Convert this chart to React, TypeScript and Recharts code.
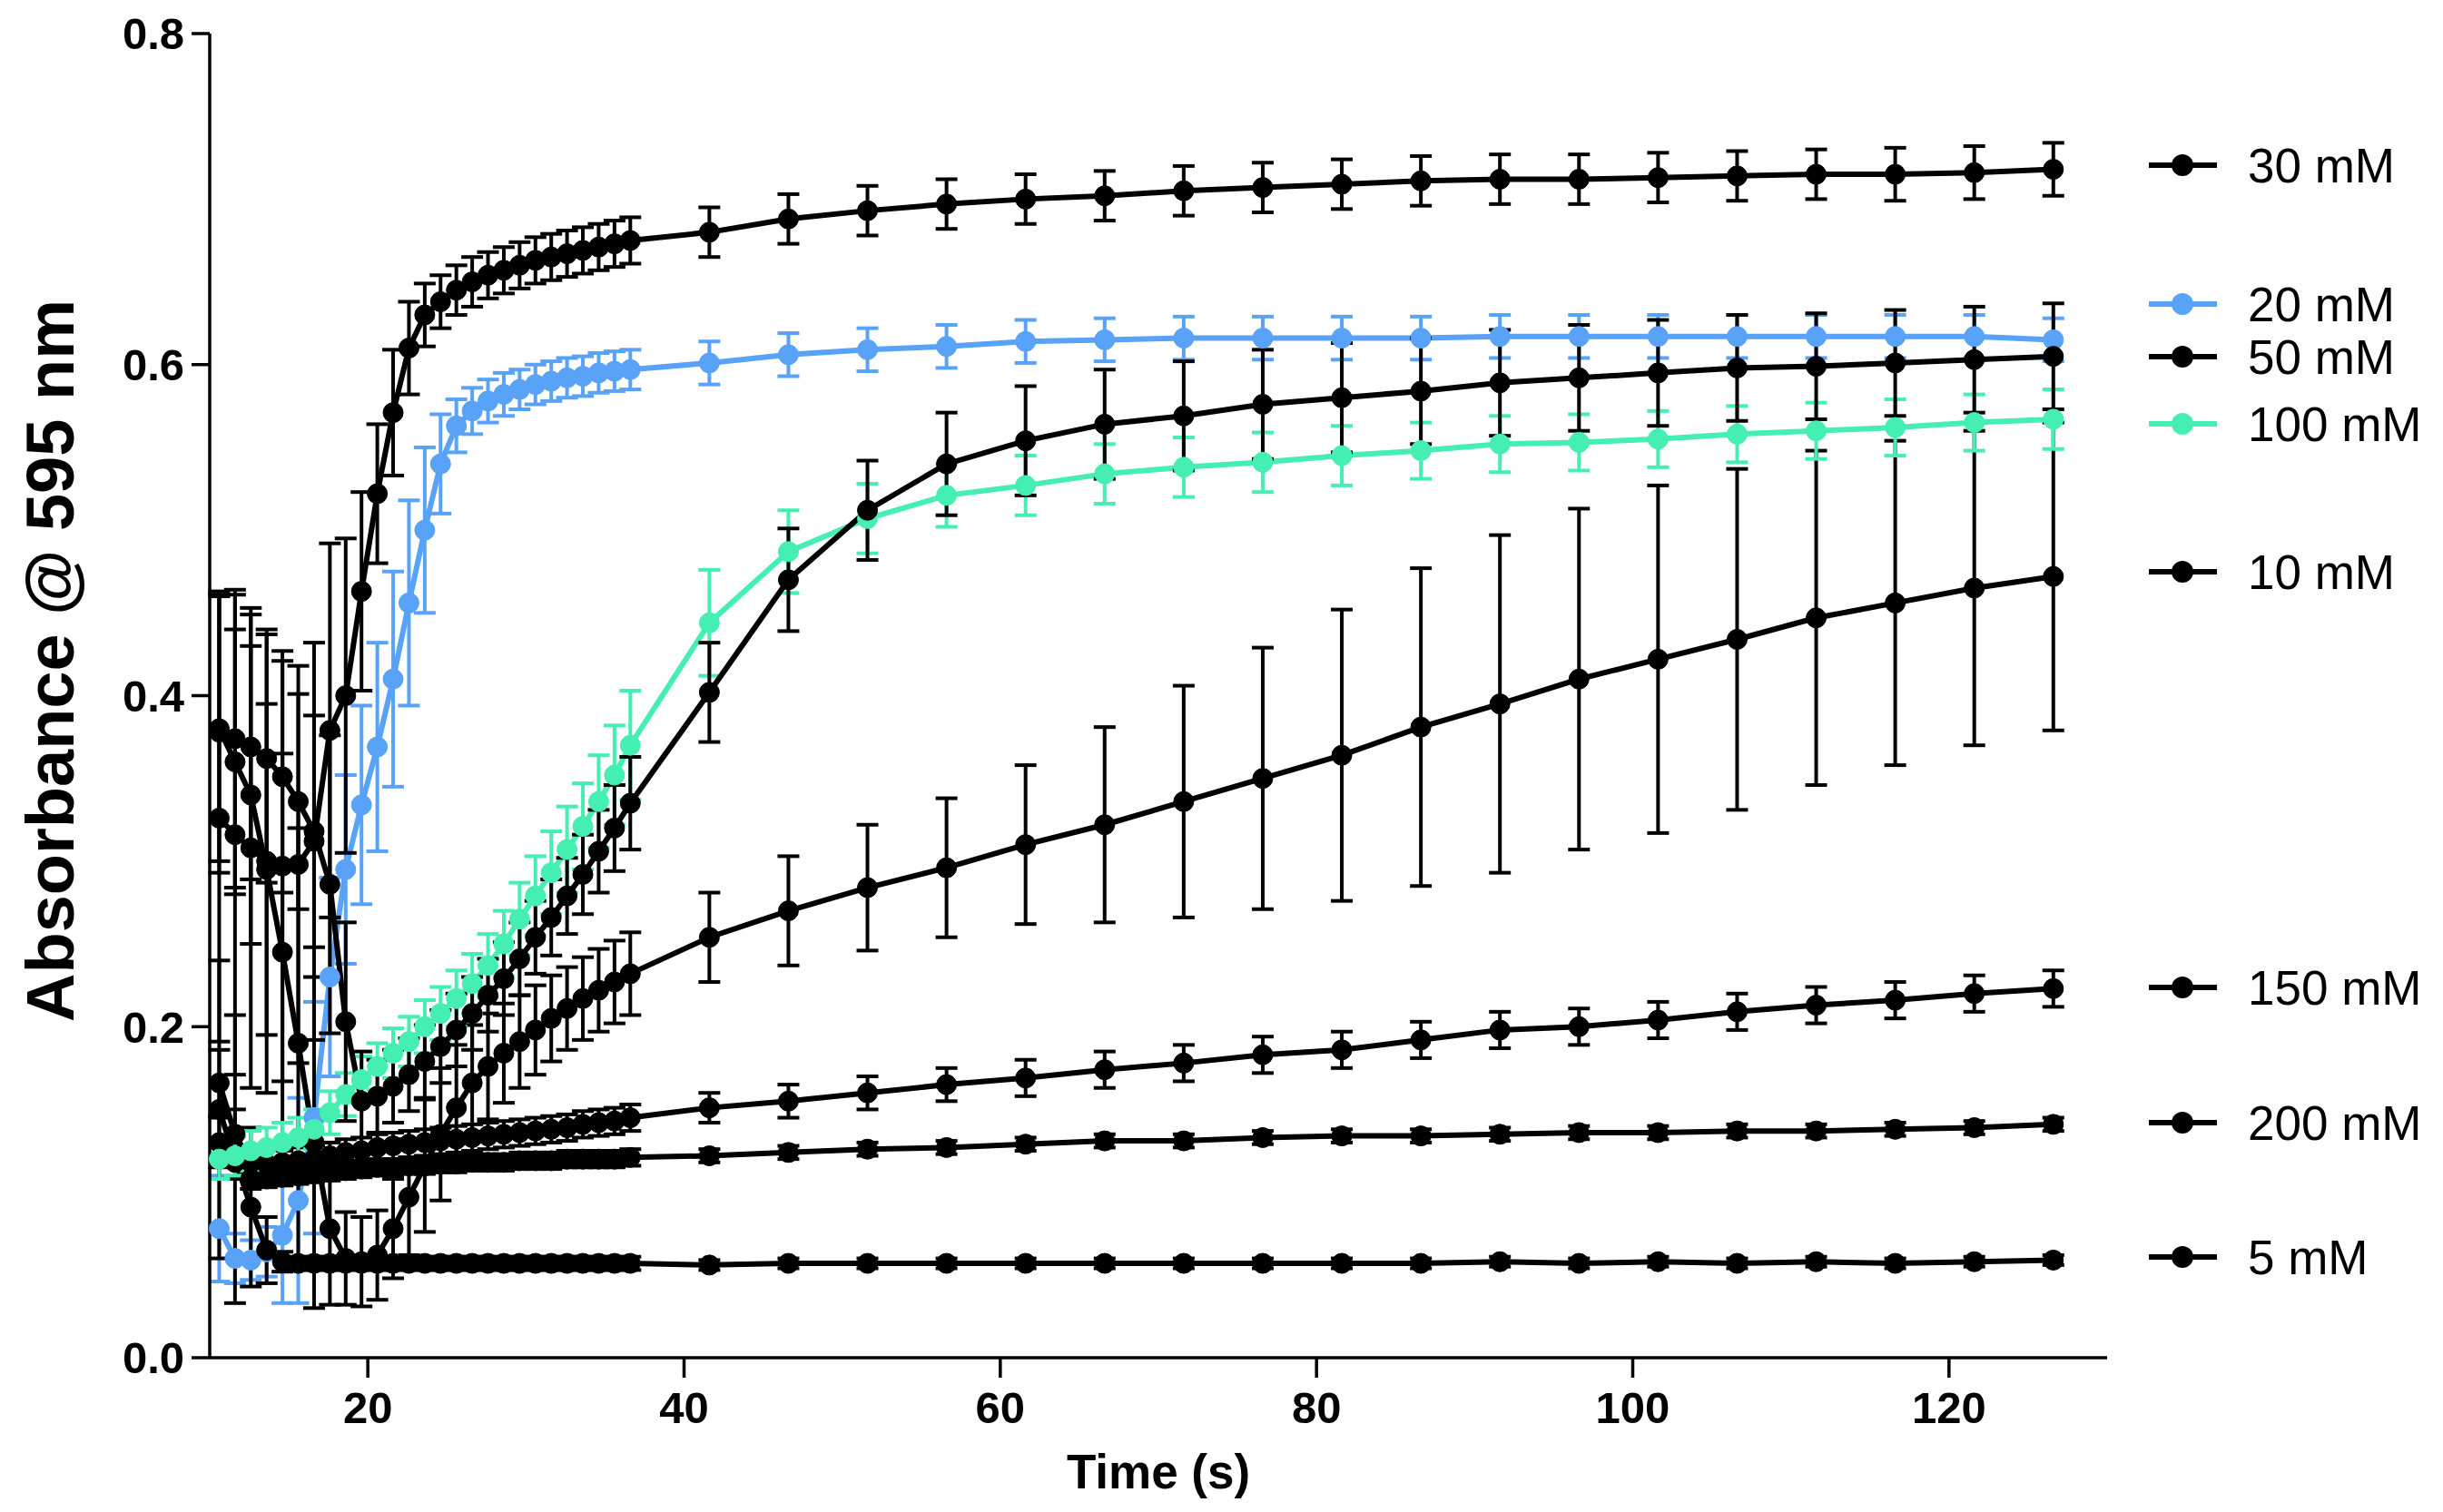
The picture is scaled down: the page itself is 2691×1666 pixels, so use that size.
import { LineChart, Line, XAxis, YAxis, ErrorBar } from 'recharts'

// sampling times (s): ~1 s reads up to 36.6 s, then every 5 s
const TIME = [
  10.6, 11.6, 12.6, 13.6, 14.6, 15.6, 16.6, 17.6, 18.6, 19.6, 20.6, 21.6, 22.6, 23.6,
  24.6, 25.6, 26.6, 27.6, 28.6, 29.6, 30.6, 31.6, 32.6, 33.6, 34.6, 35.6, 36.6,
  41.6, 46.6, 51.6, 56.6, 61.6, 66.6, 71.6, 76.6, 81.6, 86.6, 91.6, 96.6, 101.6,
  106.6, 111.6, 116.6, 121.6, 126.6,
]

const S30 = [
  0.326, 0.316, 0.308, 0.3, 0.297, 0.298, 0.312, 0.379, 0.4, 0.463, 0.522, 0.571, 0.61, 0.63,
  0.638, 0.645, 0.65, 0.654, 0.657, 0.66, 0.663, 0.665, 0.667, 0.669, 0.671, 0.673, 0.675,
  0.68, 0.688, 0.693, 0.697, 0.7, 0.702, 0.705, 0.707, 0.709, 0.711, 0.712, 0.712, 0.713,
  0.714, 0.715, 0.715, 0.716, 0.718,
]
const E30 = [
  0.135, 0.145, 0.145, 0.14, 0.13, 0.12, 0.12, 0.113, 0.095, 0.06, 0.042, 0.038, 0.028, 0.019,
  0.016, 0.015, 0.015, 0.014, 0.014, 0.014, 0.014, 0.014, 0.014, 0.014, 0.014, 0.014, 0.014,
  0.015, 0.015, 0.015, 0.015, 0.015, 0.015, 0.015, 0.015, 0.015, 0.015, 0.015, 0.015, 0.015,
  0.015, 0.015, 0.016, 0.016, 0.016,
]

const S20 = [
  0.078, 0.06, 0.059, 0.064, 0.074, 0.095, 0.145, 0.23, 0.295, 0.334, 0.369, 0.41, 0.456, 0.5,
  0.54, 0.563, 0.572, 0.578, 0.582, 0.585, 0.588, 0.59, 0.592, 0.593, 0.595, 0.596, 0.597,
  0.601, 0.606, 0.609, 0.611, 0.614, 0.615, 0.616, 0.616, 0.616, 0.616, 0.617, 0.617, 0.617,
  0.617, 0.617, 0.617, 0.617, 0.615,
]
const E20 = [
  0.032, 0.015, 0.012, 0.015, 0.041, 0.062, 0.07, 0.06, 0.057, 0.06, 0.063, 0.065, 0.062, 0.05,
  0.03, 0.016, 0.014, 0.013, 0.013, 0.012, 0.012, 0.012, 0.012, 0.012, 0.012, 0.012, 0.012,
  0.013, 0.013, 0.013, 0.013, 0.013, 0.013, 0.013, 0.013, 0.013, 0.013, 0.013, 0.013, 0.013,
  0.013, 0.013, 0.013, 0.013, 0.013,
]

const S50 = [
  0.378, 0.374, 0.369, 0.362, 0.351, 0.336, 0.318, 0.286, 0.203, 0.155, 0.158, 0.164, 0.171, 0.179,
  0.188, 0.198, 0.208, 0.219, 0.229, 0.241, 0.254, 0.266, 0.279, 0.292, 0.306, 0.32, 0.335,
  0.402, 0.47, 0.512, 0.54, 0.554, 0.564, 0.569, 0.576, 0.58, 0.584, 0.589, 0.592, 0.595,
  0.598, 0.599, 0.601, 0.603, 0.605,
]
const E50 = [
  0.085, 0.09, 0.08, 0.075, 0.07, 0.065, 0.07, 0.09, 0.06, 0.03, 0.022, 0.022, 0.022, 0.022,
  0.022, 0.022, 0.022, 0.022, 0.022, 0.022, 0.022, 0.023, 0.023, 0.024, 0.025, 0.026, 0.028,
  0.03, 0.031, 0.03, 0.031, 0.033, 0.033, 0.033, 0.033, 0.033, 0.032, 0.032, 0.032, 0.032,
  0.032, 0.032, 0.032, 0.032, 0.032,
]

const S100 = [
  0.12, 0.122, 0.125, 0.127, 0.13, 0.133, 0.138, 0.148, 0.159, 0.168, 0.176, 0.184, 0.191, 0.2,
  0.208, 0.217, 0.226, 0.237, 0.25, 0.265, 0.279, 0.293, 0.307, 0.321, 0.336, 0.352, 0.37,
  0.444, 0.487, 0.507, 0.521, 0.527, 0.534, 0.538, 0.541, 0.545, 0.548, 0.552, 0.553, 0.555,
  0.558, 0.56, 0.562, 0.565, 0.567,
]
const E100 = [
  0.012, 0.012, 0.012, 0.012, 0.012, 0.012, 0.012, 0.013, 0.013, 0.014, 0.014, 0.015, 0.015, 0.016,
  0.016, 0.017, 0.018, 0.019, 0.02, 0.022, 0.024, 0.025, 0.026, 0.026, 0.028, 0.03, 0.033,
  0.032, 0.025, 0.021, 0.019, 0.018, 0.018, 0.018, 0.018, 0.018, 0.017, 0.017, 0.017, 0.017,
  0.017, 0.017, 0.017, 0.017, 0.018,
]

const S10 = [
  0.38, 0.36, 0.34, 0.295, 0.245, 0.19, 0.13, 0.078, 0.06, 0.058, 0.062, 0.078, 0.097, 0.116,
  0.135, 0.151, 0.166, 0.176, 0.184, 0.191, 0.198, 0.205, 0.211, 0.217, 0.222, 0.227, 0.232,
  0.254, 0.27, 0.284, 0.296, 0.31, 0.322, 0.336, 0.35, 0.364, 0.381, 0.395, 0.41, 0.422,
  0.434, 0.447, 0.456, 0.465, 0.472,
]
const E10 = [
  0.08, 0.08, 0.09, 0.1, 0.12, 0.13, 0.1, 0.046, 0.028, 0.027, 0.027, 0.03, 0.035, 0.04,
  0.04, 0.038, 0.035, 0.032, 0.03, 0.028, 0.027, 0.026, 0.025, 0.025, 0.025, 0.025, 0.025,
  0.027, 0.033, 0.038, 0.042, 0.048, 0.059, 0.07, 0.079, 0.088, 0.096, 0.102, 0.103, 0.105,
  0.103, 0.101, 0.098, 0.095, 0.093,
]

const S150 = [
  0.166, 0.135, 0.118, 0.117, 0.118, 0.119, 0.12, 0.122, 0.124, 0.125, 0.127, 0.128, 0.129, 0.13,
  0.131, 0.132, 0.133, 0.134, 0.135, 0.136, 0.137, 0.138, 0.139, 0.141, 0.142, 0.143, 0.145,
  0.151, 0.155, 0.16, 0.165, 0.169, 0.174, 0.178, 0.183, 0.186, 0.192, 0.198, 0.2, 0.204,
  0.209, 0.213, 0.216, 0.22, 0.223,
]
const E150 = [
  0.02, 0.015, 0.01, 0.008, 0.008, 0.008, 0.008, 0.008, 0.008, 0.008, 0.008, 0.008, 0.008, 0.008,
  0.008, 0.008, 0.008, 0.008, 0.008, 0.008, 0.008, 0.008, 0.008, 0.008, 0.008, 0.008, 0.008,
  0.009, 0.01, 0.01, 0.01, 0.011, 0.011, 0.011, 0.011, 0.011, 0.011, 0.011, 0.011, 0.011,
  0.011, 0.011, 0.011, 0.011, 0.011,
]

const S200 = [
  0.13, 0.118, 0.108, 0.108, 0.109, 0.11, 0.111, 0.112, 0.113, 0.114, 0.115, 0.115, 0.116, 0.116,
  0.117, 0.117, 0.118, 0.118, 0.118, 0.119, 0.119, 0.119, 0.12, 0.12, 0.12, 0.12, 0.121,
  0.122, 0.124, 0.126, 0.127, 0.129, 0.131, 0.131, 0.133, 0.134, 0.134, 0.135, 0.136, 0.136,
  0.137, 0.137, 0.138, 0.139, 0.141,
]
const E200 = [
  0.015, 0.01, 0.006, 0.005, 0.005, 0.005, 0.005, 0.005, 0.005, 0.005, 0.005, 0.005, 0.005, 0.005,
  0.005, 0.005, 0.005, 0.005, 0.005, 0.005, 0.005, 0.005, 0.005, 0.005, 0.005, 0.005, 0.005,
  0.004, 0.004, 0.004, 0.004, 0.004, 0.004, 0.004, 0.004, 0.004, 0.004, 0.004, 0.004, 0.004,
  0.004, 0.004, 0.004, 0.004, 0.004,
]

const S5 = [
  0.15, 0.12, 0.091, 0.065, 0.058, 0.057, 0.057, 0.057, 0.057, 0.057, 0.057, 0.057, 0.057, 0.057,
  0.057, 0.057, 0.057, 0.057, 0.057, 0.057, 0.057, 0.057, 0.057, 0.057, 0.057, 0.057, 0.057,
  0.056, 0.057, 0.057, 0.057, 0.057, 0.057, 0.057, 0.057, 0.057, 0.057, 0.058, 0.057, 0.058,
  0.057, 0.058, 0.057, 0.058, 0.059,
]
const E5 = [
  0.09, 0.087, 0.048, 0.02, 0.006, 0.004, 0.004, 0.004, 0.004, 0.004, 0.004, 0.004, 0.004, 0.004,
  0.004, 0.004, 0.004, 0.004, 0.004, 0.004, 0.004, 0.004, 0.004, 0.004, 0.004, 0.004, 0.004,
  0.003, 0.003, 0.003, 0.003, 0.003, 0.003, 0.003, 0.003, 0.003, 0.003, 0.003, 0.003, 0.003,
  0.003, 0.003, 0.003, 0.003, 0.003,
]

const X_TICKS = [20, 40, 60, 80, 100, 120]
const Y_TICKS = [0, 0.2, 0.4, 0.6, 0.8]

// legend rows, listed top to bottom, with the absorbance each label sits beside
const LEGEND_NAMES = ['30 mM', '20 mM', '50 mM', '100 mM', '10 mM', '150 mM', '200 mM', '5 mM']
const LEGEND_AT = [0.7205, 0.6366, 0.6048, 0.5642, 0.4748, 0.2237, 0.142, 0.0609]

const BLACK = '#000000'
const BLUE = '#58a2f7'
const GREEN = '#44efb1'

// drawing order (later ones on top)
const SERIES = [
  { key: 's20', name: '20 mM', color: BLUE, values: S20, errors: E20 },
  { key: 's5', name: '5 mM', color: BLACK, values: S5, errors: E5 },
  { key: 's200', name: '200 mM', color: BLACK, values: S200, errors: E200 },
  { key: 's150', name: '150 mM', color: BLACK, values: S150, errors: E150 },
  { key: 's10', name: '10 mM', color: BLACK, values: S10, errors: E10 },
  { key: 's100', name: '100 mM', color: GREEN, values: S100, errors: E100 },
  { key: 's50', name: '50 mM', color: BLACK, values: S50, errors: E50 },
  { key: 's30', name: '30 mM', color: BLACK, values: S30, errors: E30 },
]

const data = TIME.map((t, i) => {
  const row: Record<string, number> = { t }
  for (const s of SERIES) {
    row[s.key] = s.values[i]
    row['e' + s.key] = s.errors[i]
  }
  return row
})

const W = 2691
const H = 1666
const PLOT_LEFT = 231
const PLOT_RIGHT = 2321
const PLOT_TOP = 37
const PLOT_BOTTOM = 1496
const Y_MAX = 0.8
const FONT = '"Liberation Sans", Arial, sans-serif'

const colorOf = (name: string) => SERIES.find((s) => s.name === name)?.color ?? BLACK
const yPx = (v: number) => PLOT_TOP + ((Y_MAX - v) / Y_MAX) * (PLOT_BOTTOM - PLOT_TOP)

const tickStyle = { fill: '#000', fontSize: 49, fontWeight: 700, fontFamily: FONT }
const axisLine = { stroke: '#000', strokeWidth: 3.5 }

export default function App() {
  return (
    <div style={{ position: 'absolute', left: 0, top: 0, width: W, height: H, background: '#fff' }}>
      <LineChart
        width={W}
        height={H}
        data={data}
        margin={{ top: PLOT_TOP, right: W - PLOT_RIGHT, bottom: 0, left: 0 }}
      >
        <XAxis
          dataKey="t"
          type="number"
          domain={[10, 130]}
          ticks={X_TICKS}
          height={H - PLOT_BOTTOM}
          tickSize={22}
          tickMargin={15}
          tick={tickStyle}
          axisLine={axisLine}
          tickLine={axisLine}
        />
        <YAxis
          type="number"
          domain={[0, Y_MAX]}
          ticks={Y_TICKS}
          width={PLOT_LEFT}
          tickSize={20}
          tickMargin={8}
          tick={tickStyle}
          tickFormatter={(v: number) => v.toFixed(1)}
          axisLine={axisLine}
          tickLine={axisLine}
        />
        {SERIES.map((s) => (
          <Line
            key={s.key}
            type="linear"
            dataKey={s.key}
            name={s.name}
            stroke={s.color}
            strokeWidth={6}
            dot={{ r: 11, fill: s.color, stroke: s.color, strokeWidth: 1 }}
            activeDot={false}
            isAnimationActive={false}
          >
            <ErrorBar
              dataKey={'e' + s.key}
              width={12}
              strokeWidth={4}
              stroke={s.color}
              isAnimationActive={false}
            />
          </Line>
        ))}
      </LineChart>

      <svg
        width={W}
        height={H}
        style={{ position: 'absolute', left: 0, top: 0, pointerEvents: 'none' }}
      >
        <text
          transform={`translate(81,728) rotate(-90)`}
          textAnchor="middle"
          fontFamily={FONT}
          fontWeight={700}
          fontSize={74}
          fill="#000"
        >
          Absorbance @ 595 nm
        </text>
        <text
          x={(PLOT_LEFT + PLOT_RIGHT) / 2}
          y={1640}
          textAnchor="middle"
          fontFamily={FONT}
          fontWeight={700}
          fontSize={53}
          fill="#000"
        >
          Time (s)
        </text>
        {LEGEND_NAMES.map((name, i) => {
          const y = yPx(LEGEND_AT[i])
          const c = colorOf(name)
          return (
            <g key={name}>
              <line x1={2367} x2={2442} y1={y} y2={y} stroke={c} strokeWidth={6} />
              <circle cx={2404} cy={y} r={12} fill={c} />
              <text
                x={2476}
                y={y}
                dy="0.36em"
                fontFamily={FONT}
                fontSize={53}
                fill="#000"
              >
                {name}
              </text>
            </g>
          )
        })}
      </svg>
    </div>
  )
}
